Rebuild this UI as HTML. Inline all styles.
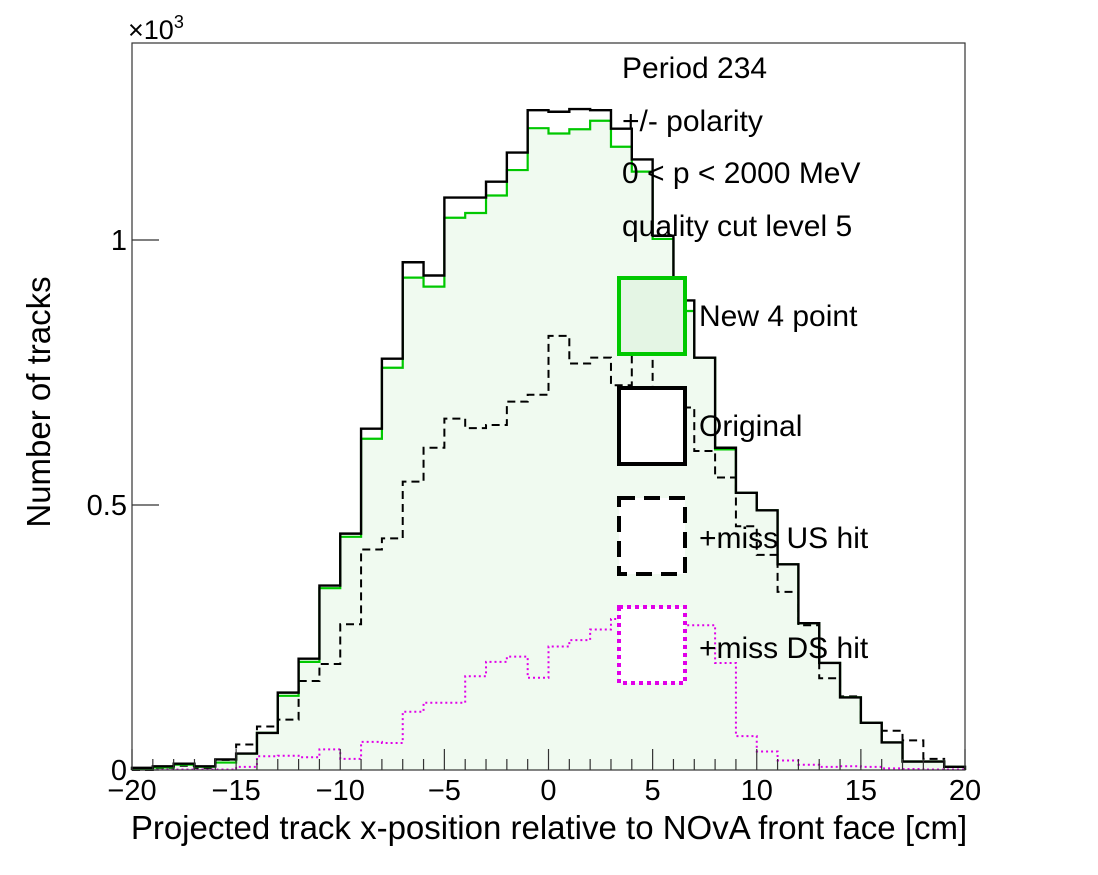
<!DOCTYPE html>
<html><head><meta charset="utf-8">
<style>
html,body{margin:0;padding:0;background:#fff;}
svg{display:block;font-family:"Liberation Sans",Arial,sans-serif;}
</style></head>
<body>
<svg id="chart" width="1098" height="875" viewBox="0 0 1098 875" xmlns="http://www.w3.org/2000/svg">
<rect x="0" y="0" width="1098" height="875" fill="#fff"/>
<g id="plot"></g>
<rect x="132" y="43" width="833" height="727" fill="none" stroke="#333" stroke-width="1.2"/>
<g id="axes"></g>
<text x="128" y="39" font-size="27">×10<tspan dy="-11" font-size="18">3</tspan></text>
<text transform="translate(50,402) rotate(-90)" text-anchor="middle" font-size="33">Number of tracks</text>
<text x="549" y="839" text-anchor="middle" font-size="33">Projected track x-position relative to NOvA front face [cm]</text>
<g font-size="30">
<text x="622" y="78">Period 234</text>
<text x="622" y="131">+/- polarity</text>
<text x="622" y="183">0 &lt; p &lt; 2000 MeV</text>
<text x="622" y="236">quality cut level 5</text>
</g>
<g font-size="30">
<g>
<rect x="619" y="278" width="66" height="76" fill="#e4f5e4" stroke="#00c800" stroke-width="4"/>
<text x="699" y="326">New 4 point</text></g>
<g>
<rect x="619" y="388" width="66" height="76" fill="#fff" stroke="#000" stroke-width="4"/>
<text x="699" y="436">Original</text></g>
<g>
<rect x="619" y="498" width="66" height="76" fill="#fff" stroke="#000" stroke-width="4" stroke-dasharray="16,9"/>
<text x="699" y="548">+miss US hit</text></g>
<g>
<rect x="619" y="607" width="66" height="76" fill="#fff" stroke="#e000e8" stroke-width="4" stroke-dasharray="4,4"/>
<text x="699" y="658">+miss DS hit</text></g>
</g>
</svg>
<script>
const binEdgesLow = [-20,-19,-18,-17,-16,-15,-14,-13,-12,-11,-10,-9,-8,-7,-6,-5,-4,-3,-2,-1,0,1,2,3,4,5,6,7,8,9,10,11,12,13,14,15,16,17,18,19];
const newFourPoint = [3,5,10,6,14,31,70,140,204,343,440,625,759,929,912,1042,1051,1084,1132,1211,1201,1209,1225,1176,1129,1002,866,778,605,523,490,388,277,202,137,89,52,16,16,6];
const original = [4,7,12,7,20,31,70,146,210,348,446,644,776,958,933,1080,1080,1110,1165,1245,1242,1247,1245,1210,1152,1008,886,778,608,523,490,388,277,202,137,89,52,16,16,6];
const missUS = [0,4,8,4,19,48,82,95,168,200,275,416,437,544,608,663,645,651,695,708,819,767,778,726,800,720,684,602,552,460,406,336,273,173,139,89,74,56,21,6];
const missDS = [1,1,1,1,1,6,26,27,24,39,21,53,51,110,127,127,177,204,214,174,233,245,265,285,295,285,273,273,202,64,35,18,10,6,7,6,3,2,1,1];
const xTicks = [-20,-15,-10,-5,0,5,10,15,20];
const xTickLabels = ["\u221220","\u221215","\u221210","\u22125","0","5","10","15","20"];
const yTicks = [0,500,1000];
const yTickLabels = ["0","0.5","1"];

const NS = "http://www.w3.org/2000/svg";
const X0 = 132, X1 = 965, Y0 = 770;
function xs(v){ return X0 + (v + 20) * (X1 - X0) / 40; }
function ys(v){ return Y0 - v * 0.530; }
function stepPath(vals){
  let d = "M" + xs(binEdgesLow[0]) + "," + ys(0);
  for (let i = 0; i < vals.length; i++){
    const a = xs(binEdgesLow[i]), b = xs(binEdgesLow[i] + 1), y = ys(vals[i]);
    d += " L" + a + "," + y + " L" + b + "," + y;
  }
  d += " L" + xs(binEdgesLow[vals.length - 1] + 1) + "," + ys(0);
  return d;
}
const plot = document.getElementById("plot");
function addPath(d, stroke, width, dash, fill, name){
  const p = document.createElementNS(NS, "path");
  p.setAttribute("d", d);
  p.setAttribute("stroke", stroke);
  p.setAttribute("stroke-width", width);
  p.setAttribute("fill", fill);
  if (dash) p.setAttribute("stroke-dasharray", dash);
  
  
  plot.appendChild(p);
}
addPath(stepPath(newFourPoint), "none", 0, null, "#f0faf0", "new-4-point-fill");
addPath(stepPath(missDS), "#e000e8", 2, "2,3", "none", "miss-ds-hit-line");
addPath(stepPath(missUS), "#000", 2, "8,5", "none", "miss-us-hit-line");
addPath(stepPath(newFourPoint), "#00c800", 2.2, null, "none", "new-4-point-line");
addPath(stepPath(original), "#000", 2.4, null, "none", "original-line");

const axes = document.getElementById("axes");
function line(x1,y1,x2,y2,name){
  const l = document.createElementNS(NS, "line");
  l.setAttribute("x1",x1);l.setAttribute("y1",y1);l.setAttribute("x2",x2);l.setAttribute("y2",y2);
  l.setAttribute("stroke","#333");l.setAttribute("stroke-width","1.2");
  
  
  axes.appendChild(l);
}
function text(x,y,s,anchor,name){
  const t = document.createElementNS(NS, "text");
  t.setAttribute("x",x);t.setAttribute("y",y);t.setAttribute("font-size","29");
  t.setAttribute("text-anchor",anchor);t.textContent = s;
  
  
  axes.appendChild(t);
}
for (let v = -20; v <= 20; v++){
  const major = xTicks.indexOf(v) >= 0;
  line(xs(v), Y0, xs(v), Y0 - (major ? 21 : 11), "x-tick");
}
xTicks.forEach((v,i)=>{ text(xs(v), Y0 + 30, xTickLabels[i], "middle", "x-tick-label"); });
yTicks.forEach((v,i)=>{
  line(X0, ys(v), X0 + 27, ys(v), "y-tick");
  text(X0 - 5, ys(v) + 10, yTickLabels[i], "end", "y-tick-label");
});
</script>
</body></html>
